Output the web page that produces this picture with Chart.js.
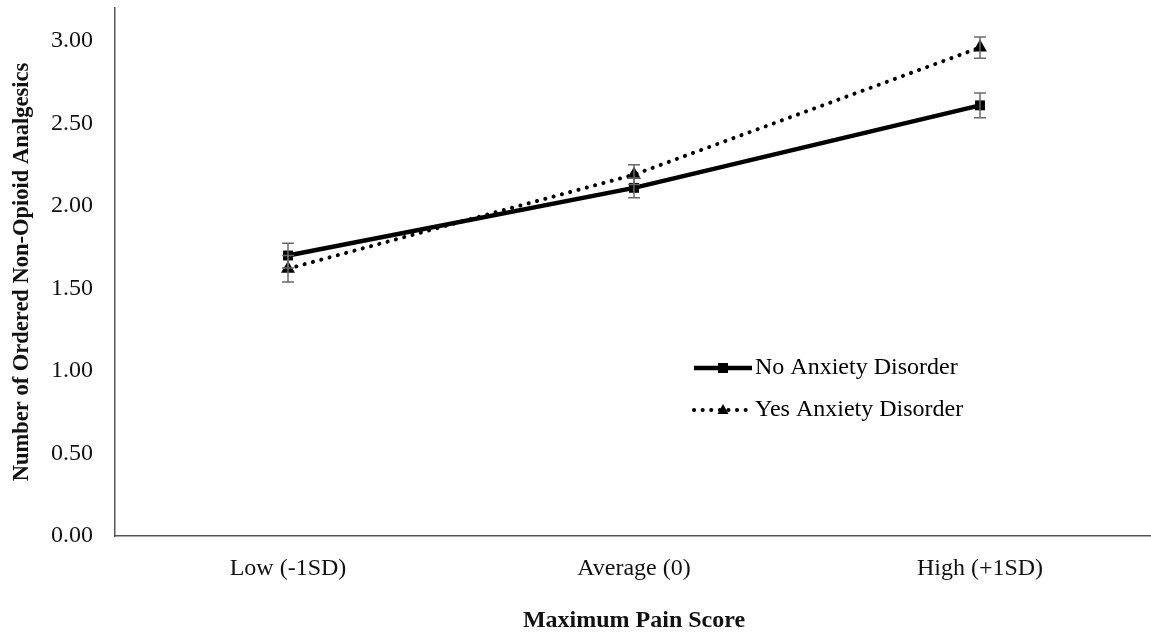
<!DOCTYPE html>
<html>
<head>
<meta charset="utf-8">
<script src="https://cdn.jsdelivr.net/npm/chart.js@4/dist/chart.umd.min.js"></script>
<style>
html,body{margin:0;padding:0;background:#fff;overflow:hidden;}
#wrap{width:1151px;height:635px;overflow:hidden;}
</style>
</head>
<body>
<div id="wrap"><canvas id="c" width="1161" height="635"></canvas></div>
<script>
const categories = ['Low (-1SD)', 'Average (0)', 'High (+1SD)'];
const noAnxiety = [1.70, 2.11, 2.61];
const noAnxietyErr = [0.075, 0.06, 0.075];
const yesAnxiety = [1.62, 2.19, 2.96];
const yesAnxietyErr = [0.08, 0.06, 0.065];
const yTicks = [0, 0.5, 1.0, 1.5, 2.0, 2.5, 3.0];
const seriesNames = ['No Anxiety Disorder', 'Yes Anxiety Disorder'];

const FONT = '"Liberation Serif", "Times New Roman", serif';

const errorBarPlugin = {
  id: 'errorBars',
  afterDatasetsDraw(chart) {
    const ctx = chart.ctx;
    const x = chart.scales.x, y = chart.scales.y;
    const errs = [noAnxietyErr, yesAnxietyErr];
    ctx.save();
    ctx.strokeStyle = '#6a6a6a';
    ctx.lineWidth = 1.5;
    chart.data.datasets.forEach((ds, di) => {
      ds.data.forEach((v, i) => {
        const px = x.getPixelForValue(i);
        const top = y.getPixelForValue(v + errs[di][i]);
        const bot = y.getPixelForValue(v - errs[di][i]);
        ctx.beginPath();
        ctx.moveTo(px, top); ctx.lineTo(px, bot);
        ctx.moveTo(px - 6, top); ctx.lineTo(px + 6, top);
        ctx.moveTo(px - 6, bot); ctx.lineTo(px + 6, bot);
        ctx.stroke();
      });
    });
    ctx.restore();
  }
};

const legendPlugin = {
  id: 'innerLegend',
  afterDraw(chart) {
    const ctx = chart.ctx;
    ctx.save();
    const x0 = 694, x1 = 752, rows = [368, 410];
    chart.data.datasets.forEach((ds, i) => {
      const yy = rows[i];
      ctx.strokeStyle = '#000';
      ctx.lineWidth = ds.borderWidth;
      ctx.lineCap = ds.borderCapStyle || 'butt';
      ctx.setLineDash(ds.borderDash || []);
      ctx.beginPath(); ctx.moveTo(x0, yy); ctx.lineTo(x1, yy); ctx.stroke();
      ctx.setLineDash([]);
      ctx.fillStyle = '#000';
      const cx = (x0 + x1) / 2;
      if (ds.pointStyle === 'rect') {
        ctx.fillRect(cx - 5, yy - 5, 10, 10);
      } else {
        ctx.beginPath();
        ctx.moveTo(cx, yy - 6); ctx.lineTo(cx + 5.5, yy + 4); ctx.lineTo(cx - 5.5, yy + 4);
        ctx.closePath(); ctx.fill();
      }
      ctx.font = '24px ' + FONT;
      ctx.textBaseline = 'middle';
      ctx.textAlign = 'left';
      ctx.fillText(ds.label, x1 + 3, yy);
    });
    ctx.restore();
  }
};

new Chart(document.getElementById('c'), {
  type: 'line',
  data: {
    labels: categories,
    datasets: [
      {
        label: seriesNames[0],
        data: noAnxiety,
        borderColor: '#000',
        backgroundColor: '#000',
        borderWidth: 4.5,
        pointStyle: 'rect',
        pointRadius: 7,
        pointBorderWidth: 0,
        tension: 0
      },
      {
        label: seriesNames[1],
        data: yesAnxiety,
        borderColor: '#000',
        backgroundColor: '#000',
        borderWidth: 4,
        borderDash: [0.1, 8.5],
        borderCapStyle: 'round',
        pointStyle: 'triangle',
        pointRadius: 8,
        pointBorderWidth: 0,
        tension: 0
      }
    ]
  },
  options: {
    responsive: false,
    animation: false,
    devicePixelRatio: 1,
    layout: { padding: { top: 4, right: 0, left: 0, bottom: 0 } },
    plugins: { legend: { display: false }, tooltip: { enabled: false } },
    scales: {
      x: {
        offset: true,
        grid: { display: false, drawTicks: false },
        border: { display: true, color: '#555', width: 1.5 },
        ticks: { color: '#111', font: { family: FONT, size: 24 }, padding: 18 },
        title: { display: true, text: 'Maximum Pain Score', color: '#111',
                 font: { family: FONT, size: 24, weight: 'bold' }, padding: { top: 0, bottom: 0 } },
        afterFit(s) { s.height = 99; s.paddingLeft = 0; s.paddingRight = 0; }
      },
      y: {
        min: 0, max: 3.2,
        grid: { display: false, drawTicks: false },
        border: { display: true, color: '#555', width: 1.5 },
        afterBuildTicks(s) { s.ticks = yTicks.map(v => ({ value: v })); },
        ticks: { color: '#111', font: { family: FONT, size: 24 }, padding: 22,
                 callback: v => Number(v).toFixed(2) },
        title: { display: true, text: 'Number of Ordered Non-Opioid Analgesics', color: '#111',
                 font: { family: FONT, size: 22.5, weight: 'bold' }, padding: { top: 9, bottom: 0 } },
        afterFit(s) { s.width = 115; s.paddingTop = 0; s.paddingBottom = 0; }
      }
    }
  },
  plugins: [errorBarPlugin, legendPlugin]
});
</script>
</body>
</html>
